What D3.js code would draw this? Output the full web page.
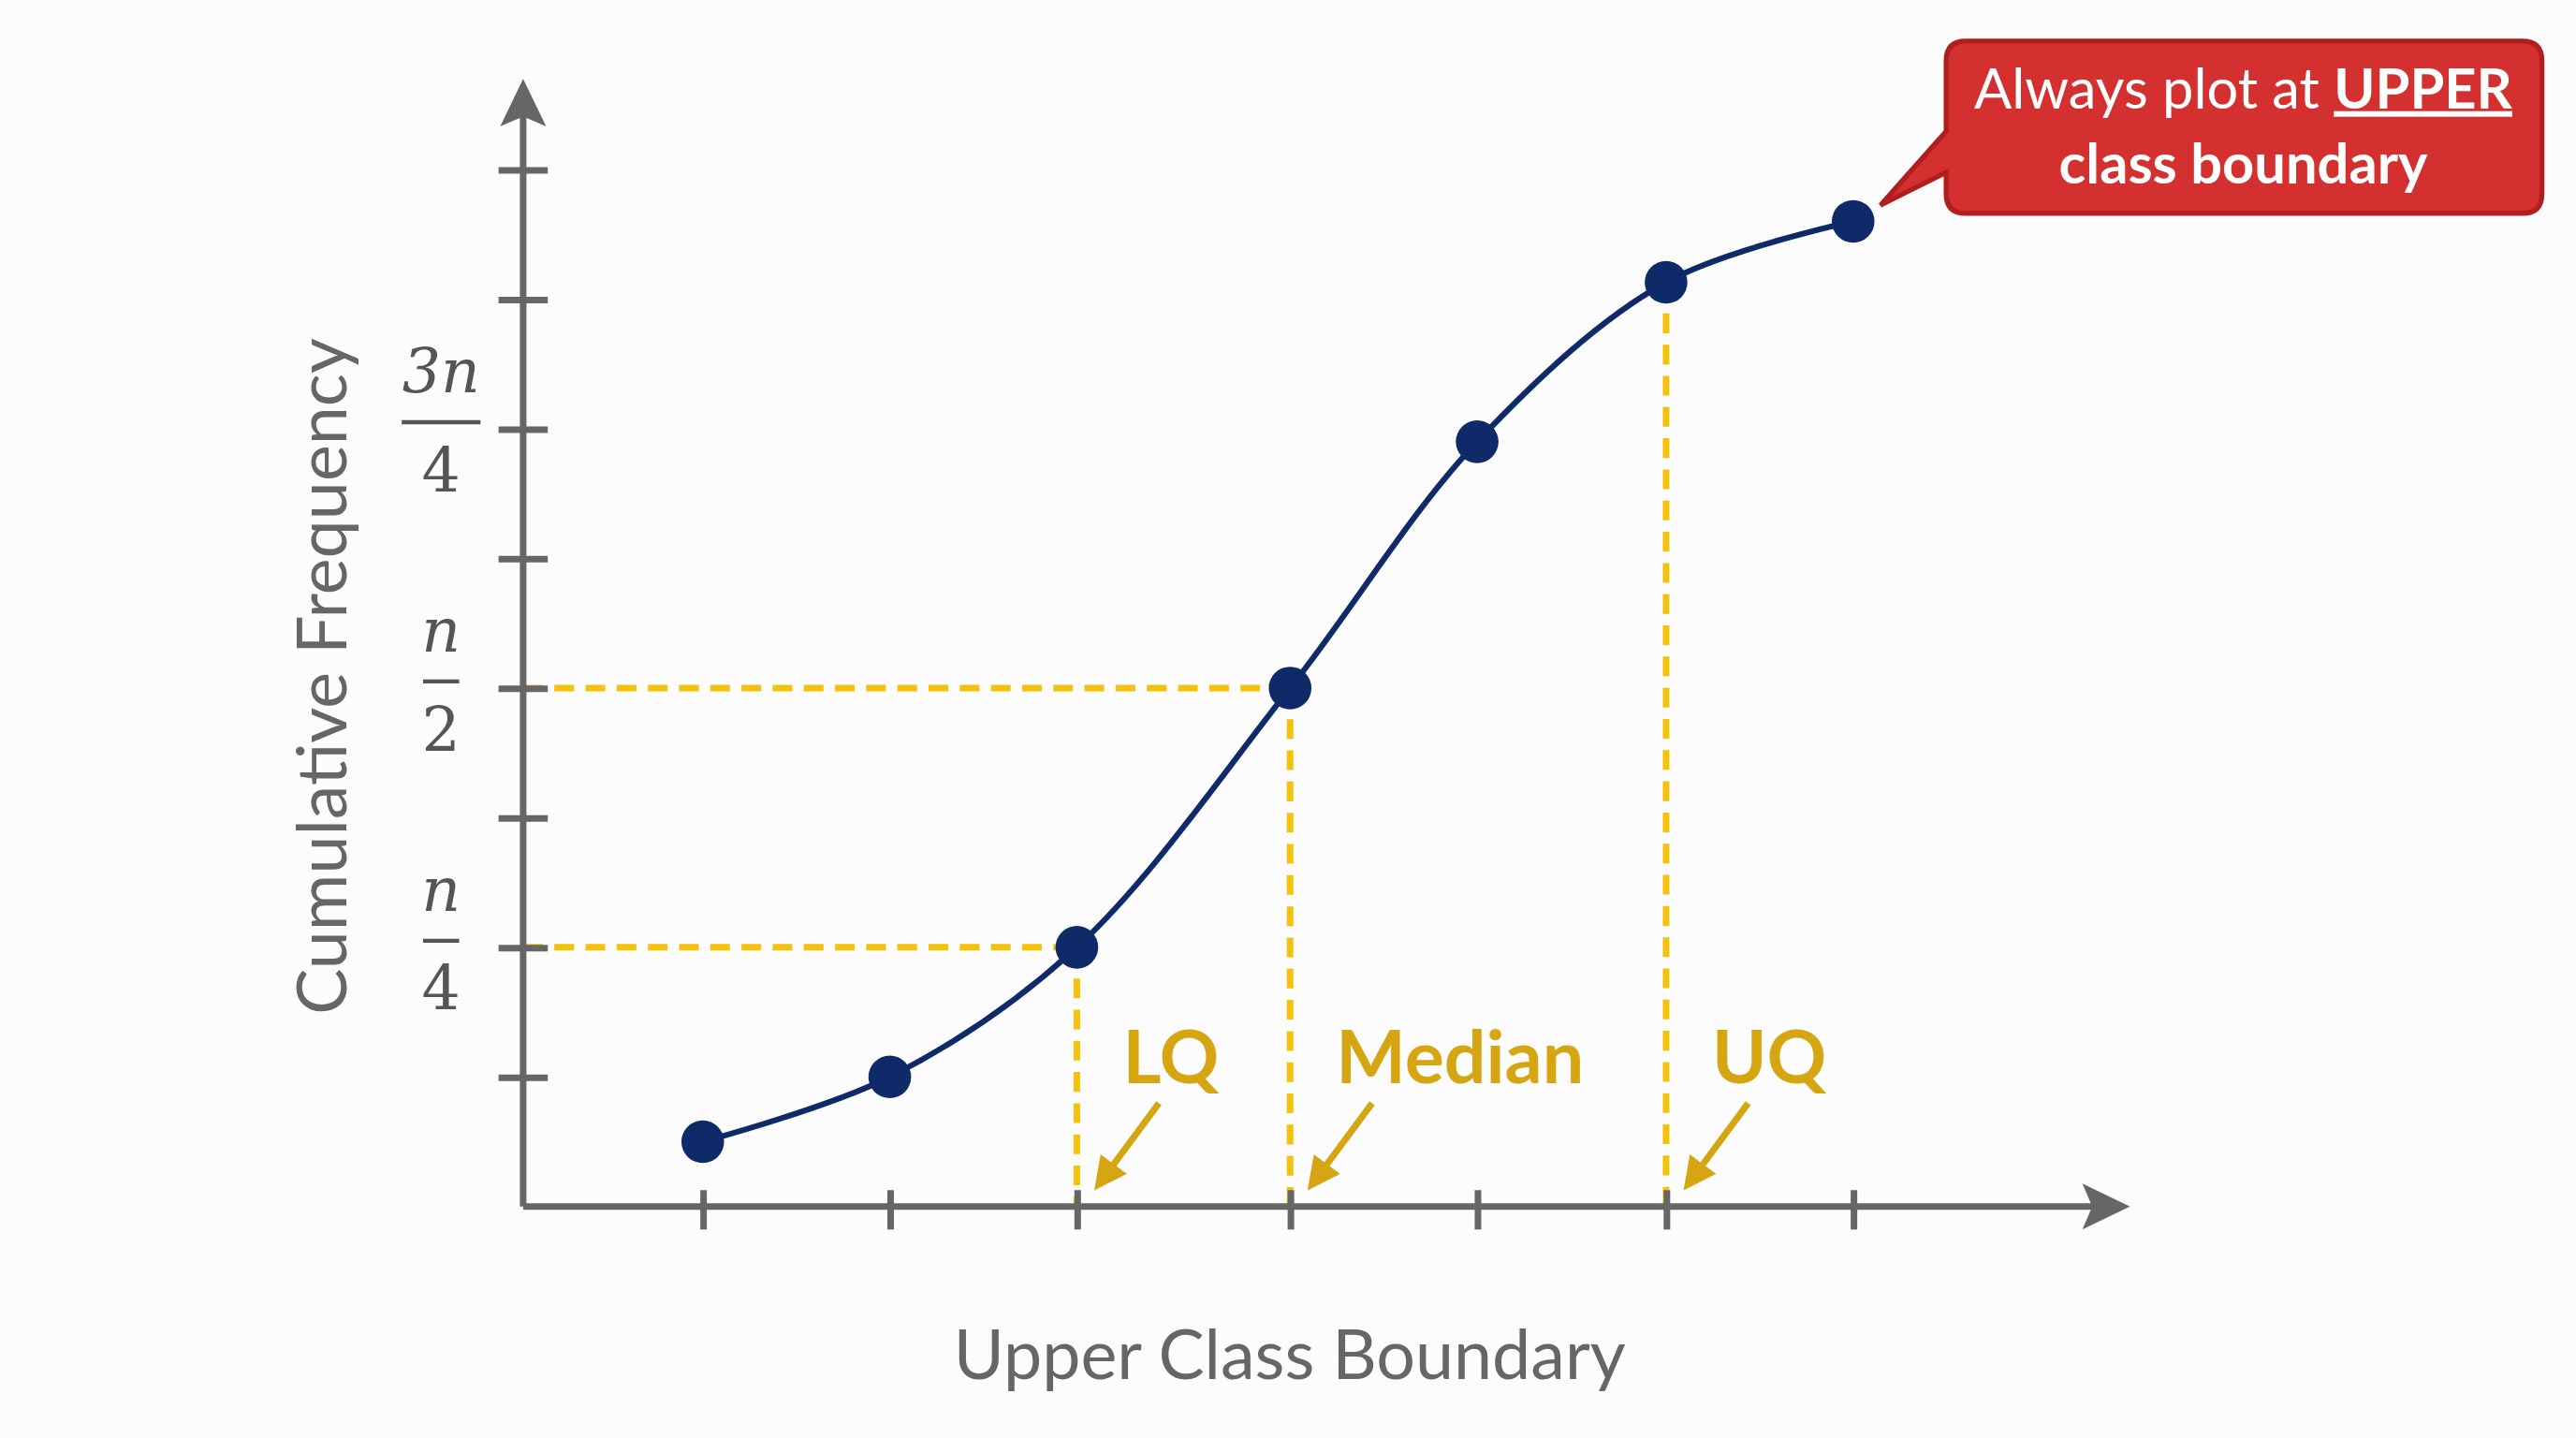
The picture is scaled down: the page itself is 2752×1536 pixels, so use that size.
<!DOCTYPE html>
<html><head><meta charset="utf-8">
<script src="https://cdn.jsdelivr.net/npm/d3@7"></script>
<style>body{margin:0;background:#fcfcfc}</style>
</head><body>
<div id="chart"></div>
<script>
// data (axis units)
const xTicks = [0.96, 1.96, 2.96, 4.1, 5.1, 6.11, 7.11];
const yTicks = [1, 2, 3, 4, 5, 6, 7, 8];
const pointsX = [0.96, 1.96, 2.96, 4.1, 5.1, 6.11, 7.11];
const pointsY = [0.5, 1, 2, 4, 5.9, 7.13, 7.6];
const fracLabels = [{v: 2, num: "n", den: "4"}, {v: 4, num: "n", den: "2"}, {v: 6, num: "3n", den: "4"}];
const quartiles = [{name: "LQ", x: 2.96, y: 2, toAxis: true}, {name: "Median", x: 4.1, y: 4, toAxis: true}, {name: "UQ", x: 6.11, y: 7.13, toAxis: false}];

const W = 1568, H = 876;
const svg = d3.select('#chart').append('svg')
  .attr('width', 2752).attr('height', 1536)
  .attr('viewBox', `0 0 ${W} ${H}`);

const x0 = 318, y0 = 735;
const xScale = d3.scaleLinear().domain([0, 8.59]).range([x0, 1297]);
const yScale = d3.scaleLinear().domain([0, 8.7]).range([y0, 48]);
const gray = '#666', navy = '#0f2a68', gold = '#f4c20d', goldText = '#d6a512';

const defs = svg.append('defs');
defs.append('marker').attr('id', 'gh').attr('viewBox', '0 0 10 10').attr('refX', 8).attr('refY', 5)
  .attr('markerWidth', 5).attr('markerHeight', 5).attr('orient', 'auto')
  .append('path').attr('d', 'M0,0 L10,5 L0,10 Z').attr('fill', goldText);

// dashed guide lines
quartiles.forEach(q => {
  const px = xScale(q.x), py = yScale(q.y);
  if (q.toAxis) {
    svg.append('line').attr('x1', x0).attr('x2', px).attr('y1', py).attr('y2', py)
      .attr('stroke', gold).attr('stroke-width', 4).attr('stroke-dasharray', '12,7');
  }
  svg.append('line').attr('x1', px).attr('x2', px).attr('y1', py).attr('y2', y0)
    .attr('stroke', gold).attr('stroke-width', 4).attr('stroke-dasharray', '12,7');
  svg.append('text').attr('x', px + 28).attr('y', 660).text(q.name)
    .attr('font-family', 'Lato, sans-serif').attr('font-weight', 'bold').attr('font-size', 45)
    .attr('fill', goldText);
  svg.append('line').attr('x1', px + 50).attr('y1', 672).attr('x2', px + 13).attr('y2', 722)
    .attr('stroke', goldText).attr('stroke-width', 4).attr('marker-end', 'url(#gh)');
});

// axes
const xAxis = svg.append('g').attr('transform', `translate(0,${y0})`)
  .call(d3.axisBottom(xScale).tickValues(xTicks).tickSize(0).tickFormat(''));
xAxis.select('.domain').remove();
xAxis.selectAll('.tick line').attr('y1', -10).attr('y2', 14).attr('stroke', gray).attr('stroke-width', 4);
const yAxis = svg.append('g').attr('transform', `translate(${x0},0)`)
  .call(d3.axisLeft(yScale).tickValues(yTicks).tickSize(0).tickFormat(''));
yAxis.select('.domain').remove();
yAxis.selectAll('.tick line').attr('x1', -15).attr('x2', 15).attr('stroke', gray).attr('stroke-width', 4);

svg.append('line').attr('x1', x0).attr('y1', y0).attr('x2', 1275).attr('y2', y0).attr('stroke', gray).attr('stroke-width', 4);
svg.append('line').attr('x1', x0).attr('y1', y0).attr('x2', x0).attr('y2', 70).attr('stroke', gray).attr('stroke-width', 4);
svg.append('path').attr('d', `M1297,${y0} L1268,${y0 - 14} L1274,${y0} L1268,${y0 + 14} Z`).attr('fill', gray);
svg.append('path').attr('d', `M${x0},48 L${x0 - 14},77 L${x0},71 L${x0 + 14},77 Z`).attr('fill', gray);

// fraction labels
fracLabels.forEach(f => {
  const py = yScale(f.v), g = svg.append('g').attr('fill', '#555')
    .attr('font-family', 'DejaVu Serif, serif').attr('font-size', 37).attr('text-anchor', 'middle');
  g.append('text').attr('x', 268).attr('y', py - 22).attr('font-style', 'italic').text(f.num);
  g.append('text').attr('x', 268).attr('y', py + 38).text(f.den);
  const bw = f.num.length > 1 ? 48 : 22;
  g.append('line').attr('x1', 268 - bw / 2).attr('x2', 268 + bw / 2).attr('y1', py - 4).attr('y2', py - 4)
    .attr('stroke', '#555').attr('stroke-width', 2.5);
});

// curve and points
const pts = pointsX.map((v, i) => [v, pointsY[i]]);
svg.append('path').datum(pts)
  .attr('d', d3.line().x(d => xScale(d[0])).y(d => yScale(d[1])).curve(d3.curveCatmullRom.alpha(0.5)))
  .attr('fill', 'none').attr('stroke', navy).attr('stroke-width', 3.5);
svg.selectAll('circle.pt').data(pts).enter().append('circle').attr('class', 'pt')
  .attr('cx', d => xScale(d[0])).attr('cy', d => yScale(d[1])).attr('r', 13).attr('fill', navy);

// axis titles
svg.append('text').attr('transform', 'translate(210,412) rotate(-90)').attr('text-anchor', 'middle')
  .attr('font-family', 'Lato, sans-serif').attr('font-size', 42).attr('fill', '#666').text('Cumulative Frequency');
svg.append('text').attr('x', 785).attr('y', 840).attr('text-anchor', 'middle')
  .attr('font-family', 'Lato, sans-serif').attr('font-size', 42).attr('fill', '#666').text('Upper Class Boundary');

// callout
const c = svg.append('g');
c.append('path').attr('d', 'M1197,25 H1536 Q1548,25 1548,37 V118 Q1548,130 1536,130 H1197 Q1185,130 1185,118 V105 L1145,125 L1185,80 V37 Q1185,25 1197,25 Z')
  .attr('fill', '#d3302f').attr('stroke', '#b01e1e').attr('stroke-width', 3);
const t1 = c.append('text').attr('x', 1366).attr('y', 66).attr('text-anchor', 'middle')
  .attr('font-family', 'Lato, sans-serif').attr('font-size', 34).attr('fill', '#fff');
t1.append('tspan').text('Always plot at ');
t1.append('tspan').attr('font-weight', 'bold').attr('text-decoration', 'underline').text('UPPER');
c.append('text').attr('x', 1366).attr('y', 112).attr('text-anchor', 'middle')
  .attr('font-family', 'Lato, sans-serif').attr('font-size', 34).attr('font-weight', 'bold').attr('fill', '#fff')
  .text('class boundary');
</script>
</body></html>
